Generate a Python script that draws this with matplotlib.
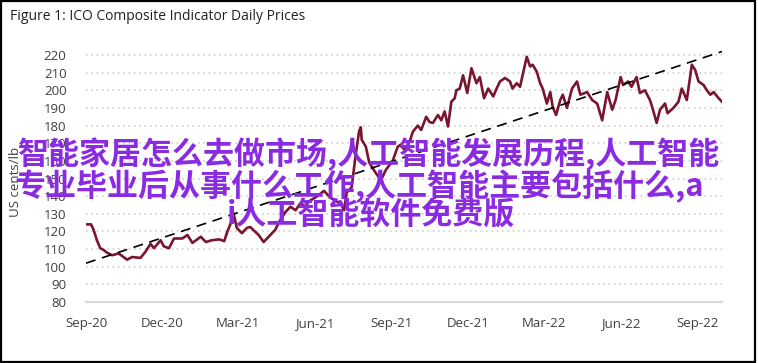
import matplotlib
matplotlib.use("Agg")
import matplotlib.pyplot as plt
import pandas as pd
from matplotlib.patches import Rectangle

title = "Figure 1: ICO Composite Indicator Daily Prices"
ylabel = "US cents/lb"

dates = ["2020-09-01","2020-09-07","2020-09-10","2020-09-14","2020-09-18","2020-09-22","2020-09-26",
"2020-10-02","2020-10-10","2020-10-20","2020-10-26","2020-11-05","2020-11-11","2020-11-17","2020-11-21",
"2020-11-29","2020-12-03","2020-12-09","2020-12-15","2020-12-25","2020-12-31","2021-01-06","2021-01-16",
"2021-01-22","2021-01-29","2021-02-07","2021-02-13","2021-02-16","2021-02-21","2021-02-24","2021-02-28",
"2021-03-06","2021-03-12","2021-03-16","2021-03-26","2021-04-01","2021-04-07","2021-04-15","2021-04-19",
"2021-04-27","2021-05-03","2021-05-09","2021-05-15","2021-05-21","2021-05-25","2021-06-04","2021-06-12",
"2021-06-20","2021-06-27","2021-07-02","2021-07-06","2021-07-09","2021-07-15","2021-07-20","2021-07-24",
"2021-07-26","2021-07-27","2021-08-01","2021-08-05","2021-08-13","2021-08-19","2021-08-25","2021-09-02",
"2021-09-08","2021-09-11","2021-09-17","2021-09-23","2021-09-26","2021-10-02","2021-10-06","2021-10-12",
"2021-10-16","2021-10-20","2021-10-26","2021-10-30","2021-11-03","2021-11-07","2021-11-11","2021-11-15",
"2021-11-17","2021-11-21","2021-11-25","2021-11-30","2021-12-05","2021-12-11","2021-12-15","2021-12-20",
"2021-12-25","2021-12-31","2022-01-04","2022-01-08","2022-01-14","2022-01-20","2022-01-23","2022-01-28",
"2022-02-01","2022-02-04","2022-02-09","2022-02-13","2022-02-16","2022-02-21","2022-02-25","2022-02-28",
"2022-03-05","2022-03-09","2022-03-12","2022-03-16","2022-03-21","2022-03-24","2022-03-29","2022-04-04",
"2022-04-10","2022-04-14","2022-04-22","2022-04-28","2022-05-04","2022-05-10","2022-05-16","2022-05-22",
"2022-05-26","2022-06-01","2022-06-04","2022-06-10","2022-06-14","2022-06-20","2022-06-24","2022-06-30",
"2022-07-06","2022-07-09","2022-07-14","2022-07-18","2022-07-24","2022-07-27","2022-08-03","2022-08-09",
"2022-08-13","2022-08-19","2022-08-25","2022-08-29","2022-09-02","2022-09-08","2022-09-12","2022-09-16",
"2022-09-20","2022-09-26","2022-09-30"]
prices = [124,124,121,115,110.5,109.5,108,
106.5,107.5,104,105.5,105,108.5,113,110.5,
115,111.5,110.5,116,116,118,113.5,117,
114,115,115.5,114.5,119,125,130.5,122,
119,122,122.5,118,114,117,121,125,
131,134,132,136,134,137,140,143,
139,137,136,132,142,145,164,177,
179,172,168,159,153,149,155,160,
168,169,166,172,176.5,180,177.5,185,
182,181.5,186,183,188,179.5,193.5,195.5,
200,201,208.5,198.5,212.5,204,207.5,195.5,
201,196.5,201,205,207,205,201,204,
202,208.5,219,213.5,214.5,210.5,204,201,
192.5,199,190.5,186,194.5,197.5,190,201,
205,197.5,199,194.5,192.5,183,199,189,
194.5,207.5,203,205,202,207.5,198.5,200,
194.5,190,181.5,189,192.5,187,190,193.5,
201,194.5,214.5,211.5,205,203,200,197.5,
199,195.5,193.5]

trend_dates = ["2020-09-01", "2022-09-30"]
trend_values = [102, 222]

tick_dates = ["2020-09-01","2020-12-01","2021-03-01","2021-06-01","2021-09-01",
              "2021-12-01","2022-03-01","2022-06-01","2022-09-01"]
tick_labels = ["Sep-20","Dec-20","Mar-21","Jun-21","Sep-21","Dec-21","Mar-22","Jun-22","Sep-22"]
yticks = list(range(80, 221, 10))

overlay_lines = ["智能家居怎么去做市场,人工智能发展历程,人工智能",
                 "专业毕业后从事什么工作,人工智能主要包括什么,a",
                 "i人工智能软件免费版"]

W, H = 758, 363
fig = plt.figure(figsize=(W/100, H/100), dpi=100)
fig.patch.set_facecolor("white")

ax = fig.add_axes([86/W, (H-302)/H, (722-86)/W, (302-46.2)/H])
d = pd.to_datetime(dates)
ax.plot(d, prices, color="#7a1530", lw=1.9, zorder=3)
ax.plot(pd.to_datetime(trend_dates), trend_values, color="black", lw=1.2,
        ls=(0, (6, 4)), zorder=4)

ax.set_xlim(pd.Timestamp("2020-09-01"), pd.Timestamp("2022-09-30"))
ax.set_ylim(80, 225)
ax.set_yticks(yticks)
ax.set_xticks(pd.to_datetime(tick_dates))
ax.set_xticklabels(tick_labels)
for y in yticks[1:]:
    ax.axhline(y, color="#cfcfcf", lw=1.2, ls=(0, (1, 2.2)), zorder=1)
for s in ["top", "right", "left"]:
    ax.spines[s].set_visible(False)
ax.spines["bottom"].set_color("#d9d9d9")
ax.spines["bottom"].set_linewidth(1.5)
ax.tick_params(axis="both", length=0, labelsize=9.5, colors="#404040")
ax.tick_params(axis="x", pad=11)
ax.tick_params(axis="y", pad=14)
for lab in ax.get_xticklabels() + ax.get_yticklabels():
    lab.set_family("Open Sans")
ax.set_ylabel(ylabel, fontsize=9.5, color="#404040", family="Open Sans", labelpad=2)
ax.yaxis.set_label_coords(-0.1, 0.47)

fig.text(10/W, 1 - 17/H, title, fontsize=10, family="Open Sans", color="#222222",
         ha="left", va="center")

centers = [(368, 154), (359, 186), (371, 215)]
for (cx, cy), t in zip(centers, overlay_lines):
    fig.text(cx/W, 1 - cy/H, t, fontsize=22.3, fontweight="bold", color="#8a2be2",
             family=["Noto Sans CJK SC", "DejaVu Sans"], ha="center", va="center", zorder=10)

fig.patches.append(Rectangle((0.0015, 0.004), 0.994, 0.993, transform=fig.transFigure,
                             fill=False, edgecolor="black", lw=1.6))

fig.savefig("out.png", dpi=100, facecolor="white")
